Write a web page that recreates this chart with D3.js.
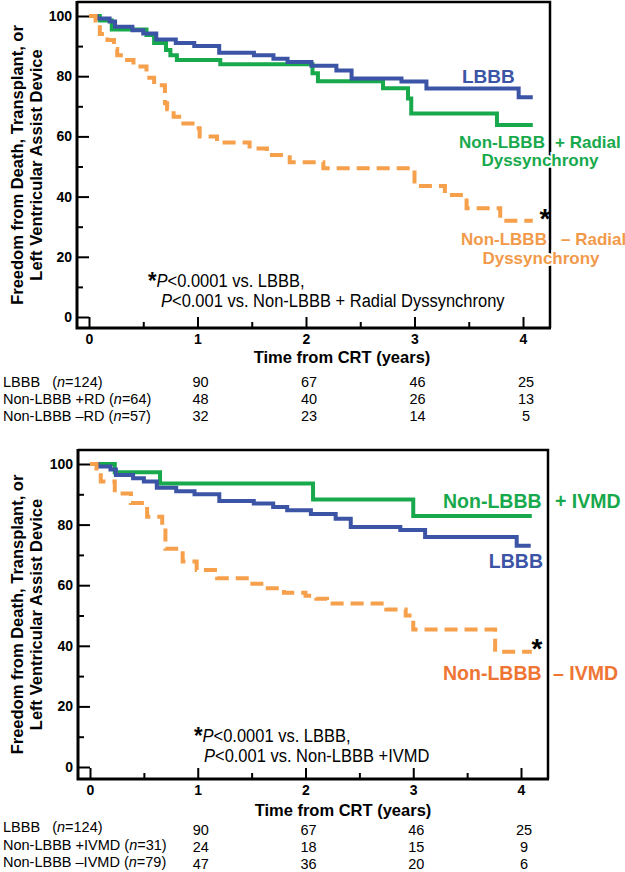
<!DOCTYPE html>
<html><head><meta charset="utf-8">
<script src="https://cdn.jsdelivr.net/npm/d3@7/dist/d3.min.js"></script>
<style>
body{margin:0;background:#fff;}
svg{display:block;font-family:"Liberation Sans",Arial,Helvetica,sans-serif;}
</style></head><body>
<svg id="c" width="625" height="872"></svg>
<script>
// ---------------- DATA ----------------
const xTicks = [0, 1, 2, 3, 4];
const yTicks = [0, 20, 40, 60, 80, 100];
const xMinor = [0.5, 1.5, 2.5, 3.5];
const yMinor = [10, 30, 50, 70, 90];

// LBBB (same cohort in both panels)
const lbbbT = [0, 0.07, 0.19, 0.24, 0.40, 0.50, 0.62, 0.80, 0.97, 1.20, 1.52, 1.70, 1.83, 2.05, 2.28, 2.42, 2.88, 3.11, 3.96, 4.09];
const lbbbS = [100, 99.2, 98.2, 96.4, 95.3, 94.2, 92.2, 91, 90, 87.8, 87, 85.8, 84.7, 83.5, 81.9, 79.2, 78.2, 75.9, 73, 73];

// Non-LBBB + Radial Dyssynchrony
const rdPosT = [0, 0.10, 0.21, 0.53, 0.60, 0.71, 0.75, 0.81, 1.21, 2.06, 2.11, 2.71, 2.94, 2.97, 3.76, 4.09];
const rdPosS = [100, 98.5, 95.5, 93.7, 91, 88.7, 87, 85.4, 84, 81, 78.3, 76, 72.6, 67.6, 63.8, 63.8];

// Non-LBBB - Radial Dyssynchrony
const rdNegT = [0, 0.06, 0.10, 0.17, 0.23, 0.26, 0.32, 0.41, 0.53, 0.60, 0.70, 0.72, 0.78, 0.87, 0.99, 1.02, 1.18, 1.48, 1.64, 1.85, 2.16, 3.00, 3.28, 3.48, 3.79, 4.09];
const rdNegS = [100, 97, 94, 92, 89, 87, 85.4, 83.2, 79.5, 77, 71, 69, 66.5, 64.3, 62.7, 60, 58, 56, 53.8, 51.4, 49.4, 43.5, 40.5, 36.1, 32, 32];

// Non-LBBB + IVMD
const ivPosT = [0, 0.23, 0.65, 2.07, 3.00, 4.10];
const ivPosS = [100, 97.3, 93.6, 88.3, 82.8, 82.8];

// Non-LBBB - IVMD
const ivNegT = [0, 0.06, 0.10, 0.23, 0.38, 0.53, 0.67, 0.70, 0.86, 0.99, 1.18, 1.48, 1.62, 1.80, 2.00, 2.10, 2.20, 2.75, 2.93, 3.00, 3.76, 4.10];
const ivNegS = [100, 97, 94.2, 90.3, 87.1, 82.6, 79, 72, 67.8, 65, 62.3, 60.5, 59, 57.5, 56.5, 55.5, 54, 52, 50, 45.4, 38, 38];

// Numbers at risk
const topRowNames = ["LBBB", "Non-LBBB +RD", "Non-LBBB \u2013RD"];
const topRowN = [124, 64, 57];
const topRisk = [[90, 67, 46, 25], [48, 40, 26, 13], [32, 23, 14, 5]];
const botRowNames = ["LBBB", "Non-LBBB +IVMD", "Non-LBBB \u2013IVMD"];
const botRowN = [124, 31, 79];
const botRisk = [[90, 67, 46, 25], [24, 18, 15, 9], [47, 36, 20, 6]];

// ---------------- STYLE ----------------
const BLUE = "#3c54a5", GREEN = "#17a94c", ORANGE = "#f6a04c", ORANGE_T = "#f29a4a", ORANGE_B = "#ee7534";

const svg = d3.select("#c");

function stext(parent, x, y, size, sy) {
  const g = parent.append("g").attr("transform", `translate(${x},${y}) scale(1,${sy || 1})`);
  return g.append("text").attr("font-size", size);
}

function panel(cfg) {
  const g = svg.append("g");
  const x = d3.scaleLinear().domain([0, 4]).range(cfg.xr);
  const y = d3.scaleLinear().domain([0, 100]).range(cfg.yr);
  const F = cfg.frame;

  const ya = g.append("g").attr("transform", `translate(${F.l},0)`)
    .call(d3.axisLeft(y).tickValues(yTicks).tickSize(-12).tickSizeOuter(0).tickPadding(5).tickFormat(d3.format("d")));
  const ym = g.append("g").attr("transform", `translate(${F.l},0)`)
    .call(d3.axisLeft(y).tickValues(yMinor).tickSize(-6).tickSizeOuter(0).tickFormat(""));
  const xa = g.append("g").attr("transform", `translate(0,${F.b})`)
    .call(d3.axisBottom(x).tickValues(xTicks).tickSize(-11).tickSizeOuter(0).tickPadding(6).tickFormat(d3.format("d")));
  const xm = g.append("g").attr("transform", `translate(0,${F.b})`)
    .call(d3.axisBottom(x).tickValues(xMinor).tickSize(-6).tickSizeOuter(0).tickFormat(""));
  [ya, ym, xa, xm].forEach(a => {
    a.select(".domain").remove();
    a.selectAll(".tick line").attr("stroke", "#000").attr("stroke-width", 2);
    a.selectAll(".tick text").attr("font-size", 14).attr("font-weight", "bold").attr("fill", "#000")
      .attr("font-family", '"Liberation Sans",Arial,sans-serif');
  });

  const line = d3.line().x(d => x(d[0])).y(d => y(d[1])).curve(d3.curveStepAfter);
  cfg.curves.forEach(c => {
    const pts = c.t.map((t, i) => [t, c.s[i]]);
    g.append("path").attr("d", line(pts)).attr("fill", "none")
      .attr("stroke", c.color).attr("stroke-width", 4)
      .attr("stroke-dasharray", c.dash || null);
  });

  g.append("path").attr("fill", "none").attr("stroke", "#000").attr("stroke-width", 2.5)
    .attr("d", `M${F.l},${F.t}H${F.r}V${F.b}`);
  g.append("path").attr("fill", "none").attr("stroke", "#000").attr("stroke-width", 3)
    .attr("d", `M${F.r + 1},${F.b}H${F.l}V${F.t - 1}`);

  cfg.labels.forEach(L => {
    g.append("text").attr("x", L.x).attr("y", L.y).attr("font-size", L.size)
      .attr("font-weight", "bold").attr("fill", L.color).attr("text-anchor", L.anchor || "start")
      .attr("stroke", "#fff").attr("stroke-width", 4).attr("paint-order", "stroke")
      .text(L.text);
  });

  g.append("text").attr("x", cfg.star[0]).attr("y", cfg.star[1]).attr("font-size", 28)
    .attr("font-weight", "bold").attr("text-anchor", "middle").text("*");

  const a1 = stext(g, cfg.ann.x0, cfg.ann.y1, 16.5, 1.1);
  a1.append("tspan").attr("font-size", 22).attr("font-weight", "bold").attr("dy", 2).text("*");
  a1.append("tspan").attr("font-style", "italic").attr("dy", -2).text("P");
  a1.append("tspan").text("<0.0001 vs. LBBB,");
  const a2 = stext(g, cfg.ann.x1, cfg.ann.y2, 16.5, 1.1);
  a2.append("tspan").attr("font-style", "italic").text("P");
  a2.append("tspan").text(cfg.ann.line2);

  g.append("text").attr("x", cfg.xTitle[0]).attr("y", cfg.xTitle[1]).attr("text-anchor", "middle")
    .attr("font-size", 16.5).attr("font-weight", "bold").text("Time from CRT (years)");
  const cy = (F.t + F.b) / 2;
  g.append("text").attr("transform", `translate(23,${cy}) rotate(-90)`).attr("text-anchor", "middle")
    .attr("font-size", 16.5).attr("font-weight", "bold").text("Freedom from Death, Transplant, or");
  g.append("text").attr("transform", `translate(42,${cy}) rotate(-90)`).attr("text-anchor", "middle")
    .attr("font-size", 16.5).attr("font-weight", "bold").text("Left Ventricular Assist Device");

  cfg.table.names.forEach((nm, i) => {
    const t = stext(g, 3, cfg.table.rowsY[i], 14.5, 1.0).style("white-space", "pre");
    t.append("tspan").text(nm + (i === 0 ? "   (" : " ("));
    t.append("tspan").attr("font-style", "italic").text("n");
    t.append("tspan").text("=" + cfg.table.n[i] + ")");
    cfg.table.risk[i].forEach((v, j) => {
      stext(g, x(j + 1) + 3, cfg.table.numY[i], 14.5, 1.0).attr("text-anchor", "middle").text(v);
    });
  });
}

panel({
  xr: [89, 523], yr: [317, 16],
  frame: { l: 77, t: 2, r: 550, b: 328 },
  curves: [
    { t: rdPosT, s: rdPosS, color: GREEN },
    { t: lbbbT, s: lbbbS, color: BLUE },
    { t: rdNegT, s: rdNegS, color: ORANGE, dash: "13,7" }
  ],
  labels: [
    { text: "LBBB", x: 462, y: 83, size: 19, color: BLUE },
    { text: "Non-LBBB", x: 459, y: 148, size: 17, color: GREEN },
    { text: "+ Radial", x: 555, y: 148, size: 17, color: GREEN },
    { text: "Dyssynchrony", x: 540, y: 166, size: 17, color: GREEN, anchor: "middle" },
    { text: "Non-LBBB", x: 461, y: 245, size: 17, color: ORANGE_T },
    { text: "\u2013 Radial", x: 561, y: 245, size: 17, color: ORANGE_T },
    { text: "Dyssynchrony", x: 541, y: 264, size: 17, color: ORANGE_T, anchor: "middle" }
  ],
  star: [545, 228],
  ann: { x0: 148, x1: 161, y1: 287, y2: 307, line2: "<0.001 vs. Non-LBBB + Radial Dyssynchrony" },
  xTitle: [342, 363],
  table: { names: topRowNames, n: topRowN, risk: topRisk, rowsY: [387, 404, 421], numY: [387, 404, 421] }
});

panel({
  xr: [90, 521], yr: [767, 464],
  frame: { l: 78, t: 450, r: 548, b: 779 },
  curves: [
    { t: ivPosT, s: ivPosS, color: GREEN },
    { t: lbbbT, s: lbbbS, color: BLUE },
    { t: ivNegT, s: ivNegS, color: ORANGE, dash: "13,7" }
  ],
  labels: [
    { text: "Non-LBBB", x: 443, y: 508, size: 19.5, color: GREEN },
    { text: "+ IVMD", x: 555, y: 508, size: 19.5, color: GREEN },
    { text: "LBBB", x: 543, y: 568, size: 19.5, color: BLUE, anchor: "end" },
    { text: "Non-LBBB", x: 443, y: 680, size: 19.5, color: ORANGE_B },
    { text: "\u2013 IVMD", x: 553, y: 680, size: 19.5, color: ORANGE_B }
  ],
  star: [537, 658],
  ann: { x0: 194, x1: 204, y1: 742, y2: 762, line2: "<0.001 vs. Non-LBBB +IVMD" },
  xTitle: [343, 816],
  table: { names: botRowNames, n: botRowN, risk: botRisk, rowsY: [832, 849.5, 867], numY: [835, 852, 869] }
});
</script>
</body></html>
